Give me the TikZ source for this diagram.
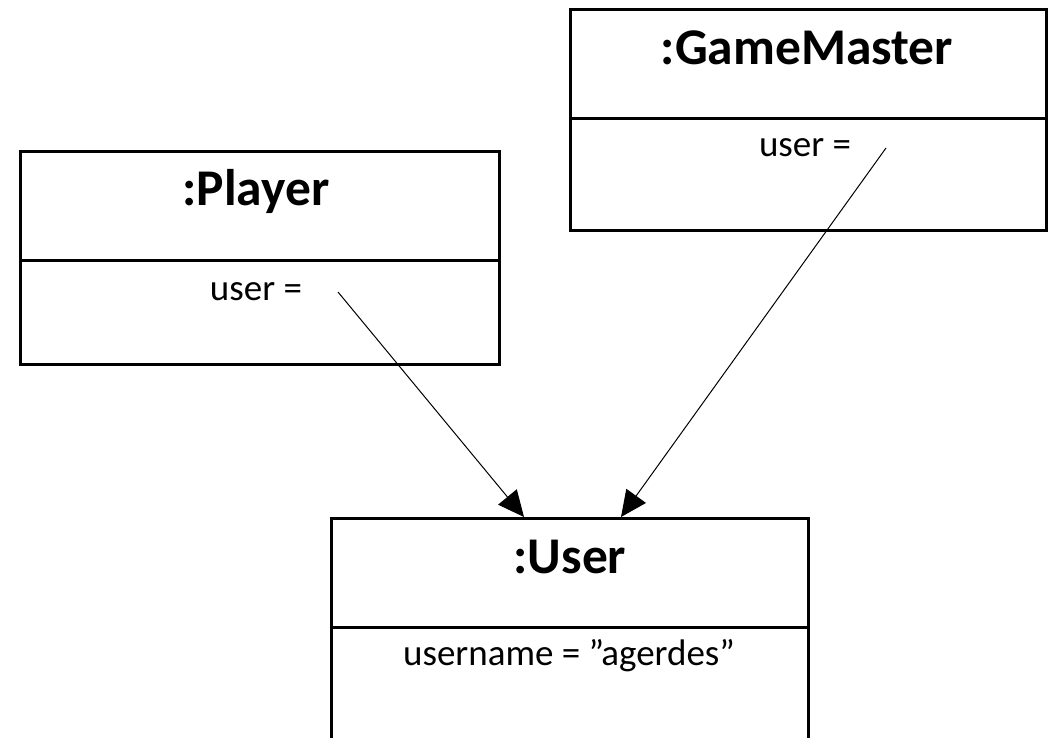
\documentclass[tikz,border=0pt]{standalone}
\usepackage{fontspec}
\setmainfont{Carlito}
\usetikzlibrary{arrows.meta}
\begin{document}
\begin{tikzpicture}[x=1pt,y=-1pt,
  objbox/.style={draw,line width=3pt,anchor=north west,inner sep=0pt,outer sep=0pt},
  titletext/.style={anchor=base,inner sep=0pt,font=\fontsize{51.5}{60}\selectfont\bfseries},
  attrtext/.style={anchor=base,inner sep=0pt,font=\fontsize{37}{44}\selectfont},
  divider/.style={line width=3pt},
  link/.style={line width=1pt,-{Triangle[length=26pt,width=24pt]}}]
\useasboundingbox (0,0) rectangle (1053,738);
\clip (0,0) rectangle (1053,738);
% boxes
\node[objbox,minimum width=479pt,minimum height=212pt] (player) at (20,152) {};
\node[objbox,minimum width=476pt,minimum height=221pt] (gm) at (570,10) {};
\node[objbox,minimum width=477pt,minimum height=300pt] (user) at (331,518) {};
% dividers
\coordinate (pd) at (0,261);
\coordinate (gd) at (0,119);
\coordinate (ud) at (0,627);
\draw[divider] (player.west |- pd) -- (player.east |- pd);
\draw[divider] (gm.west |- gd) -- (gm.east |- gd);
\draw[divider] (user.west |- ud) -- (user.east |- ud);
% texts
\node[titletext] (ptitle) at (256,206) {:Player};
\node[attrtext] (pattr) at (256,301) {user =};
\node[titletext] (gtitle) at (807,65) {:GameMaster};
\node[attrtext] (gattr) at (805,157) {user =};
\node[titletext] (utitle) at (570,573) {:User};
\node[attrtext] (uattr) at (569,665) {username = ”agerdes”};
% links
\coordinate (pstart) at (338,292);
\coordinate (gstart) at (886,148);
\coordinate (uin1) at (524,517);
\coordinate (uin2) at (621,517);
\draw[link] (pstart) -- (uin1);
\draw[link] (gstart) -- (uin2);
\end{tikzpicture}
\end{document}
